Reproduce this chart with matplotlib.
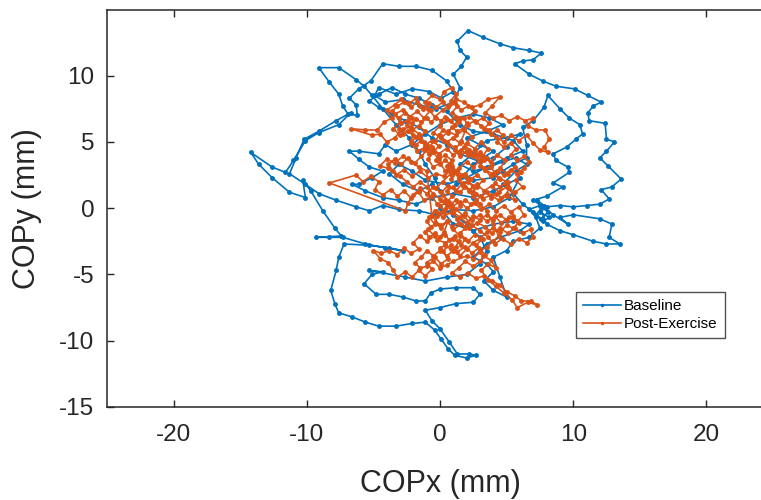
import matplotlib
matplotlib.use("Agg")
import matplotlib.pyplot as plt

plt.rcParams['font.family'] = ['Liberation Sans', 'DejaVu Sans']
plt.rcParams['axes.unicode_minus'] = False

# Centre-of-pressure trace, baseline trial (mm)
baseline_x = [
    0.0, -0.4, -1.1, -1.6, -2.3, -3.3, -4.3, -5.1, -5.7, -6.3, -7.6, -9.1, -8.3, -7.6, -7.3, -6.9, -6.2, -6.3,
    -6.8, -6.1, -5.2, -4.3, -3.1, -1.8, -0.6, 0.5, 1.0, 0.1, -0.8, -2.1, -3.3, -4.6, -4.9, -4.1, -2.8, -1.6,
    -0.3, 1.0, 1.5, 1.0, 1.6, 2.0, 1.5, 1.3, 2.1, 3.2, 4.5, 5.5, 6.7, 7.6, 7.0, 6.2, 5.6, 6.7, 7.7, 8.7, 10.1,
    11.1, 12.1, 11.5, 11.1, 11.2, 12.4, 12.5, 13.1, 12.5, 12.0, 12.6, 13.6, 12.9, 12.1, 12.7, 12.0, 11.0, 10.0,
    9.0, 8.0, 7.5, 8.2, 7.7, 7.2, 7.8, 7.3, 8.0, 9.0, 10.0, 11.5, 12.5, 13.5, 12.7, 12.9, 12.0, 10.0, 9.0, 9.6,
    8.5, 7.6, 7.0, 8.0, 9.2, 8.5, 9.7, 9.6, 8.7, 8.5, 9.5, 10.2, 10.7, 10.5, 9.7, 9.0, 8.1, 7.8, 7.0, 6.2, 6.5,
    6.5, 5.5, 4.7, 4.0, 2.5, 1.2, 2.5, 4.0, 3.0, 2.0, 3.5, 4.7, 3.7, 2.5, 1.2, 0.0, -1.1, -2.1, -3.3, -4.1,
    -4.6, -6.1, -6.8, -6.1, -5.3, -4.3, -5.1, -6.1, -6.6, -5.6, -4.3, -3.1, -1.8, -0.6, 1.0, 2.5, 4.0, 5.0,
    6.0, 5.2, 4.0, 2.5, 1.0, -0.3, -1.6, -3.1, -4.3, -5.3, -6.3, -7.8, -9.1, -10.1, -11.3, -10.8, -10.2, -9.1,
    -7.8, -6.7, -7.6, -9.1, -10.1, -11.0, -11.6, -12.6, -14.2, -13.6, -12.6, -11.3, -10.1, -10.3, -9.7, -8.8,
    -7.9, -7.4, -9.3, -8.3, -7.3, -5.6, -4.1, -2.8, -3.8, -5.3, -7.2, -7.6, -7.8, -8.2, -7.9, -7.6, -6.6, -5.6,
    -4.6, -3.3, -2.1, -1.1, -0.4, 0.1, 0.6, 1.1, 2.0, 2.7, 2.2, 1.3, 0.7, 0.0, -0.6, -1.1, 0.0, 1.2, 2.5, 3.0,
    2.5, 1.2, 0.0, -0.7, -1.1, -1.8, -2.8, -3.8, -4.8, -5.7, -5.1, -4.3, -5.3, -2.6, -1.1, 0.5, 2.0, 3.0, 3.5,
    3.0, 2.0, 1.0, 0.0, 1.0, 2.5, 4.0, 5.5, 6.7, 6.0, 4.5, 3.5, 2.5, 3.5, 4.0, 3.3, 4.0, 5.0, 4.5, 4.0, 5.0,
    5.5, 6.7, 7.5, 7.2, 6.7, 7.5, 8.1, 7.6, 7.0, 6.2, 5.5, 4.7, 5.7, 6.5, 5.7, 4.7, 3.7, 2.5, 1.5, 2.5, 3.5,
    5.0, 6.0, 5.0, 4.0, 3.0, 1.5, 0.5, -0.6, -1.6, -2.6, -3.6, -4.6, -5.3, -4.6, -3.6, -2.6, -1.6, -0.6, 0.5,
    1.5, 2.5, 4.0, 5.5, 6.2, 5.0, 3.5, 2.0, 0.5, -1.1, -2.1, -3.1, -3.8, -2.8, -1.6, -0.6,
]
baseline_y = [
    1.3, 2.3, 3.3, 4.3, 5.3, 6.3, 7.5, 8.5, 9.2, 9.7, 10.6, 10.6, 9.5, 8.6, 7.7, 7.1, 7.0, 7.8,
    8.3, 9.0, 9.6, 10.9, 10.7, 10.7, 10.4, 9.6, 8.8, 8.3, 8.8, 9.0, 8.6, 9.1, 8.5, 8.0, 8.2, 7.8,
    7.5, 8.0, 9.1, 10.1, 10.7, 11.4, 11.9, 12.6, 13.4, 12.9, 12.4, 12.1, 11.9, 11.7, 11.2, 11.1, 10.9, 10.1, 9.6, 9.2, 9.0,
    8.5, 8.0, 7.7, 7.2, 6.6, 6.4, 5.2, 5.0, 4.3, 3.8, 3.2, 2.2, 1.6, 1.4, 0.7, 0.3, 0.2, 0.1,
    0.2, 0.1, -0.3, -0.7, -1.0, -0.5, 0.2, 0.6, -1.2, -1.7, -2.0, -2.5, -2.7, -2.7, -2.2, -1.2, -0.8, -0.5, -0.7, -1.2,
    -0.5, 0.2, 0.6, 0.9, 1.6, 1.9, 2.7, 3.1, 3.6, 4.1, 4.6, 5.2, 5.6, 6.3, 6.8, 7.5, 8.5, 7.6, 6.6, 6.1, 4.8,
    3.8, 3.3, 2.8, 2.3, 2.1, 1.8, 3.3, 4.3, 4.8, 5.3, 5.8, 6.3, 6.8, 7.1, 6.8, 6.3, 5.6, 4.8, 4.3, 4.8,
    4.1, 4.3, 4.3, 3.7, 3.1, 2.8, 2.3, 1.8, 1.8, 1.3, 0.8, 0.6, 0.3, 0.8, 1.1, 0.8, 1.3, 1.8,
    2.3, 0.8, 0.1, -0.2, -0.1, -0.5, -0.2, -0.1, 0.2, -0.2, 0.1, 0.6, 1.1, 1.8, 2.6, 3.8, 5.2, 5.8,
    6.6, 7.2, 6.3, 5.7, 5.1, 3.6, 2.7, 3.1, 4.2, 3.3, 2.3, 1.2, 0.8, 2.1, 1.3, -0.2,
    -1.5, -2.1, -2.2, -2.2, -2.2, -2.7, -3.0, -3.2, -3.0, -2.8, -2.7, -3.7, -4.7, -6.2, -7.2, -7.9, -8.2, -8.6,
    -8.9, -8.9, -8.7, -8.6, -9.2, -9.9, -10.6, -11.1, -11.3, -11.1, -11.0, -11.0, -10.1, -9.1, -8.5, -7.7, -7.5, -7.2, -7.1, -6.5,
    -6.0, -6.0, -6.1, -6.4, -7.0, -7.0, -6.7, -6.5, -6.5, -5.7, -5.0, -4.8, -4.7, -5.2, -5.5, -5.2, -5.0, -4.2, -3.2,
    -2.2, -1.2, -0.5, 0.0, -1.2, -1.7, -1.2, -1.0, -1.2, -1.7, -2.2, -2.7, -3.7, -4.2, -4.8, -5.5, -6.2, -6.7, -5.2, -3.7, -3.2,
    -2.5, -2.2, -1.5, -0.7, -0.1, 0.2, -0.3, -0.8, -0.3, 0.3, 1.1, 1.8, 2.8, 3.3, 3.8, 3.5, 3.1, 2.8, 3.3, 4.1, 5.1,
    5.3, 5.6, 4.6, 3.8, 3.5, 4.1, 4.8, 5.3, 6.1, 6.6, 7.1, 7.6, 8.1, 8.6, 9.1, 8.6, 8.3, 7.8, 7.3,
    6.3, 5.8, 5.6, 5.1, 4.3, 3.8, 3.1, 2.3, 1.8, 2.1, 2.8, 3.3, 2.6, 1.8, 1.3, 1.8,
]

# Centre-of-pressure trace, post-exercise trial (mm)
post_x = [
    0.8, 1.3, 0.9, 0.4, 0.0, -0.5, -0.9, -0.5, -1.1, -1.7, -2.2, -1.8, -2.4, -3.0, -3.5, -3.0, -3.4, -2.8,
    -2.3, -1.7, -1.2, -0.7, -1.1, -0.6, 0.0, 0.3, 0.9, 1.2, 0.8, 1.3, 0.9, 1.5, 1.1, 0.5, 0.0, -0.5, 0.1, 0.6,
    1.2, 1.8, 2.4, 2.0, 2.6, 3.1, 3.6, 3.2, 3.8, 4.3, 4.9, 4.5, 5.1, 5.6, 6.1, 5.7, 6.2, 5.6, 5.0, 4.4, 3.9,
    3.3, 2.8, 2.2, 1.7, 1.2, 0.6, 0.1, -0.5, -1.0, -1.5, -2.0, -2.4, -2.6,
    -8.3, -6.3, -5.8, -5.2, -4.6, -4.9, -4.3, -3.7, -3.2, -2.7, -2.2, -1.6, -1.2, -0.6, -0.2, 0.4, 0.9, 1.5,
    2.0, 2.6, 3.1, 3.7, 4.2, 4.8, 5.3, 5.9, 6.3, 5.8, 5.2, 4.6, 4.1, 3.5, 3.0, 2.4, 1.9, 1.3, 0.8, 0.2, -0.3,
    -0.8, -0.4,
    -0.9, -0.4, -1.0, -1.5, -2.0, -1.6, -2.2, -2.7, -3.2, -3.8, -4.4, -5.0, -4.5, -3.9, -3.5, -3.2, -2.6, -2.1,
    -1.6, -1.1, -0.6, -1.0, -0.4, 0.1, 0.6, 0.2, 0.8, 1.3, 1.9, 2.4, 2.9, 3.4, 3.0, 2.5, 1.9, 1.4, 0.9, 1.5,
    2.1, 2.7, 3.3, 3.9, 4.5, 5.0, 5.6, 6.1, 6.8, 7.3, 6.6, 5.8, 5.4, 4.8, 4.2, 3.6, 3.1, 3.6, 4.2, 3.8, 3.2,
    2.7, 3.2, 2.6, 2.1, 1.5, 1.0, 1.6, 2.2, 2.8, 3.4, 3.9, 4.5, 5.1, 5.6, 6.2, 6.8, 7.0, 6.5, 5.9, 5.3, 4.7,
    4.1, 3.6, 3.0, 2.4, 1.8, 1.2, 0.7,
    0.2, -0.3, 0.2, 0.8, 1.4, 2.0, 2.5, 3.0, 2.6, 2.1, 1.6, 1.0, 0.5, -0.1, -0.6, -1.2, -1.6, -2.2, -2.8,
    -3.4, -4.0, -4.5, -5.1, -6.7, -5.6, -4.7, -4.2, -3.6, -4.0, -3.4, -2.9, -2.3, -1.8, -1.5, -0.9, -0.4, 0.2,
    0.7, 1.2, 1.8, 2.4, 3.0, 3.6, 4.5, 3.9, 3.4, 4.0, 4.6, 5.2, 5.8, 6.4, 7.0, 6.6, 7.2, 7.9, 8.2, 7.8, 8.1,
    7.5, 7.0, 6.5, 5.9, 5.3, 4.8, 4.2, 3.7, 3.1, 2.6, 2.1, 1.6, 2.2, 3.3, 3.9, 4.5, 5.1, 5.6, 5.0, 4.4, 3.8,
    3.2, 2.7, 2.1, 1.5, 0.9, 0.3, -0.3, -0.9, -1.5, -2.1, -2.7, -3.3, -3.9, -4.5, -4.0, -3.4, -2.8, -2.2, -1.6,
    -1.0, -0.6, 0.0, 0.6, 0.3, -0.2, 0.4, 1.0, 1.6,
    1.9, 1.5, 1.9, 1.4, 0.9, 0.5, 0.1, -0.4, -0.2, 0.3, 0.0, 0.5, 0.9, 0.5, 1.0, 1.5, 1.9, 2.4, 2.8, 3.2,
    2.8, 2.3, 1.9, 1.4, 1.0, 0.5, 0.9, 0.4, -0.1, -0.5, -0.1, -0.6, -1.1, -1.5, -1.1, -1.6, -2.1, -2.5, -2.1, -2.6,
    -3.1, -3.6, -3.2, -2.7, -2.2, -1.7, -1.3, -0.8, -0.3, 0.2, 0.6, 1.1, 1.6, 2.1, 2.6, 2.2, 2.7, 3.2, 3.7, 3.3,
    3.8, 4.3, 4.7, 4.3, 4.8, 5.3, 5.7, 5.3, 5.8, 6.3, 6.7, 6.3, 5.8, 5.3, 4.8, 4.3, 3.8, 3.4, 3.9, 3.5,
    3.0, 2.5, 2.0, 1.5, 1.1, 1.5, 1.0, 0.5, 0.0, -0.4, -0.9, -1.4, -1.9, -2.4, -2.9, -3.4, -3.9, -3.5, -3.0, -2.5,
    -2.0, -1.5, -1.0, -0.5, 0.0, 0.5, 1.0, 1.5, 2.0, 2.5, 3.0, 3.5, 4.0, 4.5, 5.0, 5.5, 5.9, 5.5, 5.0, 4.5,
    4.0, 3.5, 3.0, 2.5, 2.0, 1.5, 1.0, 0.5, 0.0, -0.5, -1.0, -1.4, -1.9, -1.5, -1.0, -0.5, 0.0, 0.5, 1.0, 2.0,
    2.5, 3.0, 3.5, 4.0, 4.4, 4.0, 3.5, 3.0, 2.5,
    2.2, 2.5, 2.1, 1.7, 1.4, 1.7, 1.3, 0.9, 0.6, 0.8, 0.4, 0.0, -0.3, -0.1, -0.5, -0.8, -1.2, -1.0, -1.4, -1.8,
    -2.2, -2.0, -2.4, -2.8, -3.1, -2.9, -2.5, -2.1, -1.8, -1.4, -1.0, -0.7, -0.3, 0.1, 0.4, 0.8, 1.1, 1.4, 1.8, 2.0,
    1.7, 1.3, 0.9, 0.6, 0.2, -0.1, 0.3, 0.7, 1.1, 1.4, 1.8, 2.2, 2.6, 2.9, 3.3, 3.0, 3.4, 3.8, 4.1, 4.4,
    4.1, 4.5, 4.9, 5.2, 5.0, 4.6, 4.2, 3.8, 3.5, 3.1, 2.7, 2.3, 1.9, 1.5, 1.2, 0.8, 0.4, 0.0, -0.4, -0.7,
    -1.0, -0.7, -1.1, -0.8, -0.4, 0.0, 0.4, 0.7, 1.1, 1.4, 1.2, 0.8, 0.4, 0.0,
]
post_y = [
    2.2, 2.7, 3.2, 2.8, 3.4, 3.1, 3.7, 4.2, 4.6, 4.3, 4.9, 5.4, 5.8, 5.5, 6.0, 6.5, 7.1, 7.4,
    6.9, 7.3, 6.8, 7.4, 8.0, 8.5, 8.2, 8.8, 9.1, 8.6, 8.1, 7.7, 7.2, 6.8, 6.3, 6.7, 6.2, 5.7, 5.3, 5.8,
    5.5, 5.9, 5.4, 4.9, 4.5, 5.0, 4.5, 3.9, 3.5, 4.0, 3.6, 3.0, 2.6, 3.1, 2.7, 2.1, 1.6, 1.2, 1.6, 1.2, 1.7,
    1.3, 1.8, 1.4, 1.9, 1.3, 1.7, 1.2, 1.6, 1.1, 1.5, 1.0, 0.4, -0.2,
    1.9, 2.5, 2.0, 2.4, 2.0, 1.4, 1.0, 1.4, 0.9, 1.3, 0.8, 1.2, 0.6, 0.9, 0.3, 0.6, 0.1, 0.5,
    0.0, 0.4, -0.1, 0.3, -0.2, 0.2, -0.3, 0.1, -0.5, -1.0, -0.7, -1.1, -0.6, -1.0, -0.5, -0.9, -0.4, -0.8, -0.3, -0.7, -0.2,
    -0.7, -1.2,
    -1.6, -2.1, -2.5, -2.1, -2.6, -3.1, -3.4, -3.0, -3.5, -3.2, -3.4, -3.2, -3.8, -4.1, -4.7, -5.2, -4.8, -5.2,
    -4.7, -5.1, -4.6, -4.1, -3.7, -4.2, -3.8, -3.2, -2.8, -3.3, -2.9, -3.4, -3.0, -3.5, -4.0, -4.4, -4.0, -4.5, -4.9, -5.2,
    -4.9, -5.3, -5.1, -5.5, -5.8, -6.3, -6.6, -7.0, -7.0, -7.3, -7.1, -7.5, -6.9, -6.4, -5.9, -5.4, -4.7, -4.2, -4.5, -3.9, -3.6,
    -2.8, -2.3, -2.0, -2.5, -2.1, -1.6, -1.2, -1.5, -1.1, -1.4, -1.9, -1.5, -1.9, -1.5, -1.9, -1.6, -2.2, -2.6, -2.3, -2.7, -2.3,
    -2.7, -2.2, -1.7, -1.3, -0.6, -0.1, 0.5,
    1.0, 1.5, 2.0, 2.6, 3.0, 3.5, 3.1, 3.6, 4.1, 4.0, 4.4, 4.0, 4.5, 4.1, 4.6, 5.0, 5.6, 6.1, 6.0,
    5.3, 5.0, 5.6, 5.5, 6.0, 5.9, 5.9, 6.5, 6.8, 7.4, 7.8, 8.2, 7.9, 8.3, 7.7, 7.5, 6.9, 7.4,
    7.8, 8.2, 8.0, 7.6, 7.8, 8.2, 8.4, 7.7, 7.2, 6.8, 7.0, 6.6, 6.9, 6.6, 6.8, 6.2, 5.9, 5.9, 5.2, 4.6, 4.2,
    4.4, 4.9, 5.5, 5.1, 5.5, 5.0, 5.4, 5.9, 6.2, 6.6, 6.3, 5.1, 4.4, 3.0, 2.6, 2.2, 2.0, 0.6, 0.9, 0.6, 1.0,
    0.7, 1.1, 2.2, 2.4, 2.9, 2.4, 2.6, 2.3, 2.8, 2.4, 2.9, 2.5, 3.0, 3.2, 3.7, 3.4, 3.9, 3.5, 3.1,
    2.8, -0.6, -1.3, -1.0, -1.8, -2.4, -2.6, -2.3, -2.8,
    -2.3, -1.9, -1.5, -1.1, -1.4, -1.0, -1.5, -1.1, -0.6, -0.3, 0.2, 0.4, 0.9, 1.3, 1.6, 1.2, 1.6, 1.2, 1.6, 2.1,
    2.5, 2.2, 2.6, 2.3, 2.8, 3.2, 3.6, 4.0, 3.7, 4.2, 4.7, 5.1, 4.8, 5.3, 5.8, 6.2, 5.9, 6.3, 6.8, 7.2,
    6.8, 7.3, 7.7, 8.0, 7.6, 8.0, 7.5, 7.9, 7.6, 8.0, 7.6, 7.9, 7.4, 7.7, 7.3, 6.9, 6.5, 6.8, 6.4, 6.0,
    5.6, 5.9, 5.5, 5.0, 4.6, 4.9, 4.5, 4.0, 3.6, 3.9, 3.5, 3.0, 2.6, 2.9, 2.5, 2.8, 2.4, 2.9, 3.3, 3.8,
    4.2, 3.9, 4.3, 3.9, 4.4, 4.9, 5.3, 5.0, 5.5, 5.1, 4.5, 3.9, 3.4, 3.8, 3.3, 3.7, 3.3, 2.8, 2.4, 2.0,
    1.6, 2.0, 1.6, 1.1, 0.7, 0.2, -0.3, -0.7, -1.1, -0.6, -0.9, -0.5, -0.9, -0.5, -0.9, -0.6, -1.1, -1.5, -1.3, -1.8,
    -1.5, -1.8, -2.3, -2.6, -3.1, -3.6, -3.2, -3.6, -3.2, -3.6, -3.2, -3.7, -4.1, -4.5, -4.4, -4.0, -4.5, -4.3, -4.0, -3.6,
    -3.8, -3.3, -2.9, -2.5, -2.1, -1.2, -0.2, 0.3, 0.9,
    1.3, 1.7, 2.0, 1.7, 2.1, 2.5, 2.8, 2.5, 2.9, 3.3, 3.6, 3.3, 3.6, 4.0, 4.4, 4.1, 4.4, 4.8, 5.1, 4.8,
    5.1, 5.5, 5.8, 5.6, 6.0, 6.4, 6.6, 6.4, 6.7, 6.5, 6.8, 6.5, 6.8, 6.6, 6.9, 6.6, 6.9, 6.5, 6.8, 6.4,
    6.0, 5.8, 6.1, 5.7, 5.9, 5.5, 5.1, 4.8, 4.6, 4.2, 4.6, 4.1, 4.4, 4.0, 3.6, 3.2, 2.9, 3.1, 2.7, 2.3,
    1.9, 1.6, 1.9, 1.5, 1.1, 0.8, 1.1, 0.8, 1.2, 0.9, 0.6, 0.3, 0.6, 0.2, 0.6, 0.3, -0.1, -0.4, -0.2, -0.6,
    -1.0, -1.4, -1.8, -2.2, -1.9, -2.2, -2.0, -2.4, -2.1, -2.5, -2.9, -3.1, -2.8, -3.0,
]

series_labels = ['Baseline', 'Post-Exercise']
series_colors = ['#0072BD', '#D95319']
x_ticks = [-20, -10, 0, 10, 20]
y_ticks = [-15, -10, -5, 0, 5, 10]

W, H = 761, 500
fig = plt.figure(figsize=(W / 100, H / 100), dpi=100)
# axes box: left 107 px, top 10 px, bottom 407 px; right edge lies past the canvas
ax = fig.add_axes([107 / W, (H - 407) / H, (773 - 107) / W, 397 / H])

ink = '#262626'
for xs, ys, lab, col in zip([baseline_x, post_x], [baseline_y, post_y], series_labels, series_colors):
    ax.plot(xs, ys, color=col, lw=1.2, marker='.', ms=5, label=lab)

ax.set_xlim(-25, 25)
ax.set_ylim(-15, 14.95)
ax.set_xticks(x_ticks)
ax.set_yticks(y_ticks)
ax.tick_params(direction='in', length=5, width=1.0, colors=ink, labelsize=17.5,
               top=True, right=True)
ax.tick_params(axis='x', pad=12)
ax.tick_params(axis='y', pad=9)
for s in ax.spines.values():
    s.set_color(ink)
    s.set_linewidth(1.1)

ax.set_xlabel('COPx (mm)', fontsize=22, color=ink)
ax.set_ylabel('COPy (mm)', fontsize=22, color=ink)
ax.xaxis.set_label_coords(0.5, -0.157)
ax.yaxis.set_label_coords(-0.097, 0.5)

leg = ax.legend(loc='upper left', bbox_to_anchor=(576 / W, 1 - 292 / H),
                bbox_transform=fig.transFigure, fontsize=11, frameon=True,
                fancybox=False, borderaxespad=0, borderpad=0.45, labelspacing=0.3,
                handlelength=2.5, handletextpad=0.2, markerscale=0.6)
leg.get_frame().set_edgecolor(ink)
leg.get_frame().set_linewidth(1.0)
for t in leg.get_texts():
    t.set_color('#000000')

fig.savefig('out.png', dpi=100)
